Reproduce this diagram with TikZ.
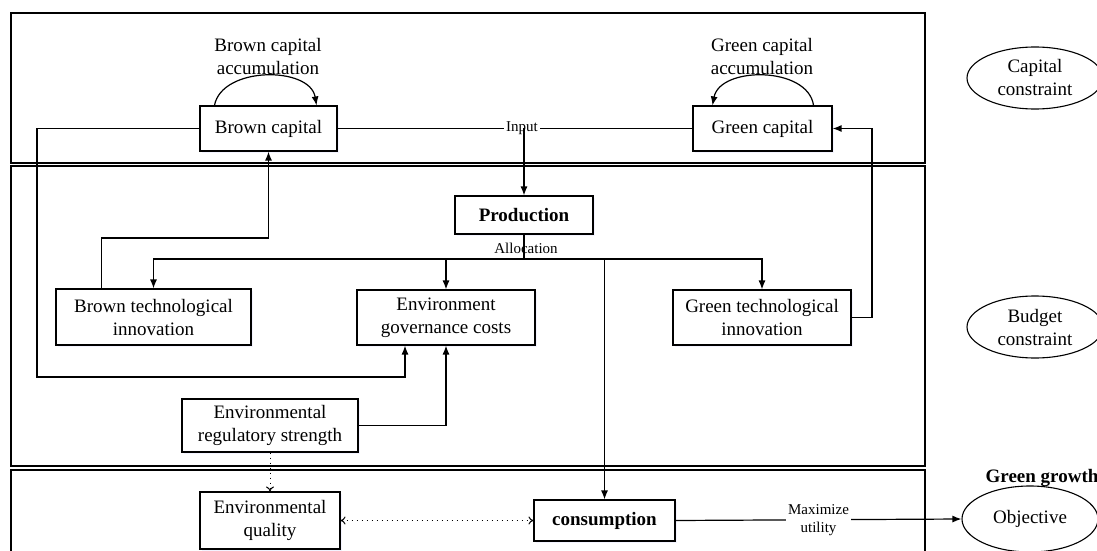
\documentclass[tikz,border=0pt]{standalone}
\usepackage{fontspec}
\setmainfont{Liberation Serif}
\usetikzlibrary{arrows.meta,shapes.geometric,shadows}
\begin{document}
\begin{tikzpicture}[x=0.5pt,y=-0.5pt]
\tikzset{boite/.style={draw, fill=white, line width=0.55pt, align=center, inner sep=1pt, font=\fontsize{9.5}{11.5}\selectfont,
    drop shadow={shadow xshift=0.8pt, shadow yshift=-0.8pt, fill=blue!6, opacity=0.8}},
  bulle/.style={draw, ellipse, line width=0.55pt, align=center, inner sep=0pt, font=\fontsize{9.5}{11.5}\selectfont},
  etiq/.style={align=center, inner sep=1pt, font=\fontsize{9.5}{11.5}\selectfont},
  petit/.style={align=center, inner sep=1pt, fill=white, font=\fontsize{7.5}{9}\selectfont},
  panneau/.style={draw, line width=0.65pt},
  fleche/.style={line width=0.6pt, -{Latex[length=4.5pt,width=3.5pt]}},
  pointille/.style={line width=0.5pt, dotted, {To[length=2.5pt,width=4pt]}-{To[length=2.5pt,width=4pt]}}}
\useasboundingbox (0,0) rectangle (1097,551);
\clip (0,0) rectangle (1097,551);
% the three panels
\draw[panneau] (11,13) rectangle (925,163);
\draw[panneau] (11,166) rectangle (925,466);
\draw[panneau] (11,470) rectangle (925,570);
% boxes
\node[boite, minimum width=68.5pt, minimum height=22.5pt] (BK) at (268.5,128.5) {Brown capital};
\node[boite, minimum width=69.5pt, minimum height=22.5pt] (GK) at (762.5,128.5) {Green capital};
\node[boite, minimum width=69pt, minimum height=19pt] (PR) at (524,215) {\textbf{Production}};
\node[boite, minimum width=97.5pt, minimum height=28pt] (BT) at (153.5,317) {Brown technological\\innovation};
\node[boite, minimum width=89pt, minimum height=27.5pt] (EC) at (446,317.5) {Environment\\governance costs};
\node[boite, minimum width=89pt, minimum height=27.5pt] (GT) at (762,317.5) {Green technological\\innovation};
\node[boite, minimum width=88pt, minimum height=26.5pt] (RS) at (270,425.5) {Environmental\\regulatory strength};
\node[boite, minimum width=70pt, minimum height=28.5pt] (EQ) at (270,520.5) {Environmental\\quality};
\node[boite, minimum width=70.5pt, minimum height=20.5pt] (CO) at (604.5,520.5) {\textbf{consumption}};
% ellipses on the right
\node[bulle, minimum width=68pt, minimum height=31pt] (KC) at (1035,78) {Capital\\constraint};
\node[bulle, minimum width=68pt, minimum height=31pt] (BU) at (1035,327) {Budget\\constraint};
\node[bulle, minimum width=68pt, minimum height=33pt] (OB) at (1030,519) {Objective};
\node[etiq] (GG) at (1042,478) {\textbf{Green growth}};
% accumulation loops
\node[etiq] (BA) at (268,57) {Brown capital\\accumulation};
\node[etiq] (GA) at (762,57) {Green capital\\accumulation};
\draw[fleche] ([xshift=7.5pt]BK.north west) .. controls (222,66) and (310,66) .. ([xshift=-10.5pt]BK.north east);
\draw[fleche] ([xshift=-9.5pt]GK.north east) .. controls (808,66) and (720,66) .. ([xshift=10pt]GK.north west);
% input
\coordinate (IN) at (524,128.5);
\draw[line width=0.6pt] (BK.east) -- (GK.west);
\node[petit] (LI) at (522,128.5) {Input};
\draw[fleche] (IN) -- (PR.north);
% allocation
\coordinate (AL) at (524,259);
\draw[line width=0.6pt] (PR.south) -- (AL);
\node[font=\fontsize{7.5}{9}\selectfont, inner sep=0pt] (LA) at (526,248) {Allocation};
\draw[fleche] (AL) -| (BT.north);
\draw[fleche] (AL) -| (EC.north);
\draw[fleche] (AL) -| (GT.north);
\draw[fleche] (AL) -| (CO.north);
% feedback lines
\draw[fleche] ([xshift=-26pt]BT.north) |- (268.5,238) -- (BK.south);
\draw[fleche] (BK.west) -| (37,377) -| ([xshift=-20.5pt]EC.south);
\draw[fleche] (RS.east) -| (EC.south);
\draw[fleche] (GT.east) -| (872,200) |- (GK.east);
% environment
\draw[line width=0.5pt, dotted, -{To[length=2.5pt,width=4pt]}] (RS.south) -- (EQ.north);
\draw[pointille] (EQ.east) -- (CO.west);
\draw[fleche] (CO.east) -- node[petit, pos=0.5] (LM) {Maximize\\utility} (OB.west);
\end{tikzpicture}
\end{document}
